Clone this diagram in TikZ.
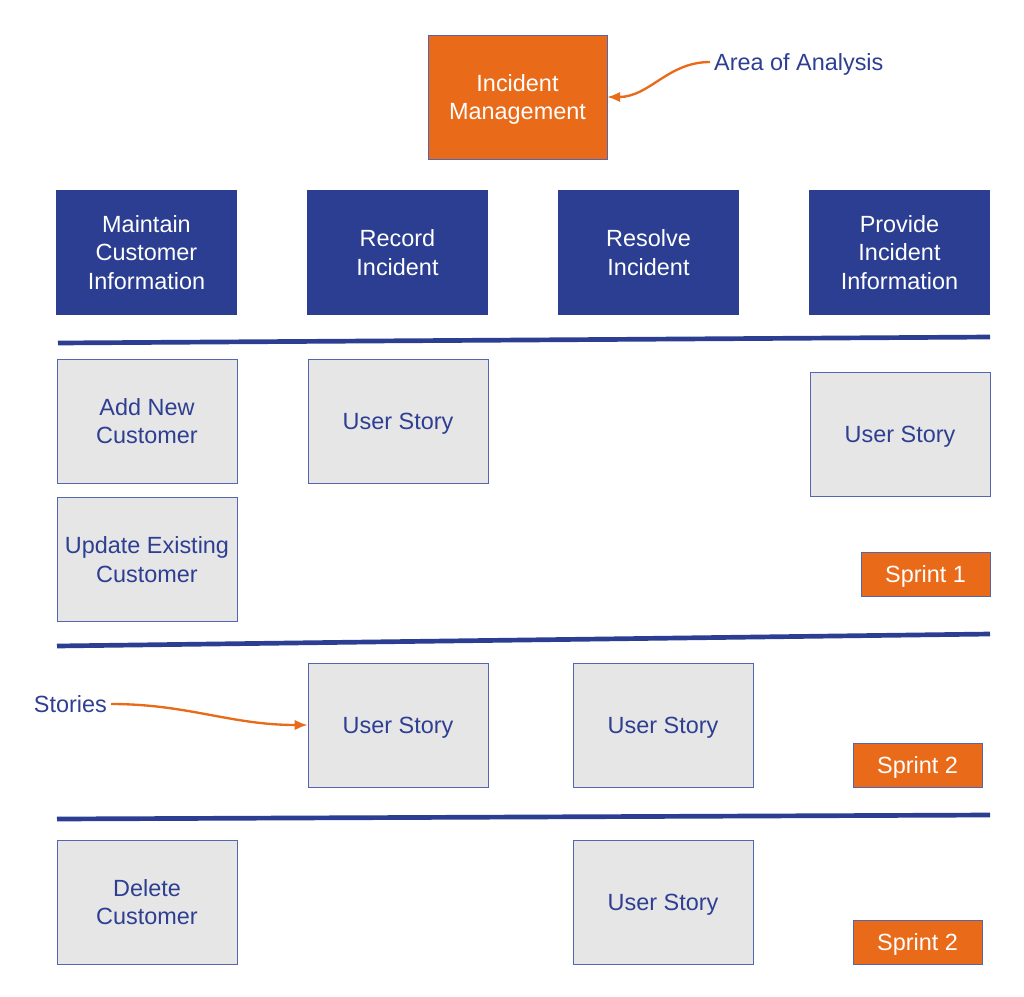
\documentclass[tikz,border=0pt]{standalone}
\usepackage{fontspec}
\setmainfont{Liberation Sans}
\usepackage{tikz}
\usetikzlibrary{arrows.meta}
\definecolor{epicblue}{HTML}{2B3E92}
\definecolor{textblue}{HTML}{2E3F92}
\definecolor{sprintorange}{HTML}{E96B1A}
\definecolor{storygrey}{HTML}{E6E6E6}
\definecolor{edgeblue}{HTML}{5566B0}
\newcommand{\boxFont}[0]{\fontsize{20}{24.6}\selectfont}

\begin{document}
\begin{tikzpicture}[x=0.03cm, y=-0.03cm]
  \tikzset{every node/.style={align=center,font=\boxFont,text depth=0pt},
    area/.style={draw=edgeblue,fill=sprintorange,text=white,minimum width=5.37cm,minimum height=3.72cm},
    epic/.style={fill=epicblue,text=white,minimum width=5.43cm,minimum height=3.75cm},
    story/.style={draw=edgeblue,thick,fill=storygrey,text=textblue,minimum width=5.4cm,minimum height=3.72cm},
    sprint/.style={draw=edgeblue,fill=sprintorange,text=white,minimum width=3.87cm,minimum height=1.32cm},
    label/.style={text=textblue},
    divider/.style={epicblue,line width=4pt},
    pointer/.style={-{Latex[length=11pt,width=9pt]},sprintorange,line width=2pt}}
  \useasboundingbox (0,0) rectangle (1024,996);
  % area and epics
  \node[area] (IM) at (517.5,97) {Incident\\Management};
  \node[label,anchor=west] (AoA) at (710,62) {Area of Analysis};
  \node[epic] (MCI) at (146.5,252.5) {Maintain\\Customer\\Information};
  \node[epic] (RI) at (397.5,252.5) {Record\\Incident};
  \node[epic] (RsI) at (648.5,252.5) {Resolve\\Incident};
  \node[epic] (PII) at (899.5,252.5) {Provide\\Incident\\Information};
  \draw[divider] (58,343) -- (990,337);
  % sprint 1
  \node[story] (ANC) at (147,421) {Add New\\Customer};
  \node[story] (UEC) at (147,559.5) {Update Existing\\Customer};
  \node[story] (US-1-1) at (398,421) {User Story};
  \node[story] (US-1-2) at (900,434) {User Story};
  \node[sprint] (S-1) at (925.5,574) {Sprint 1};
  \draw[divider] (57,646) -- (990,634);
  % sprint 2
  \node[label,anchor=east] (ST) at (111,704) {Stories};
  \node[story] (US-2-1) at (398,725) {User Story};
  \node[story] (US-2-2) at (663,725) {User Story};
  \node[sprint] (S-2) at (917.5,765) {Sprint 2};
  \draw[divider] (57,819) -- (990,815);
  % sprint 3
  \node[story] (DC) at (147,902) {Delete\\Customer};
  \node[story] (US-3-1) at (663,902) {User Story};
  \node[sprint] (S-3) at (917.5,942) {Sprint 2};
  \draw[pointer] (AoA.west) to[out=180,in=0] (IM.east |- 0,97);
  \draw[pointer] (ST.east) to[out=0,in=180] (US-2-1.west);
\end{tikzpicture}
\end{document}
